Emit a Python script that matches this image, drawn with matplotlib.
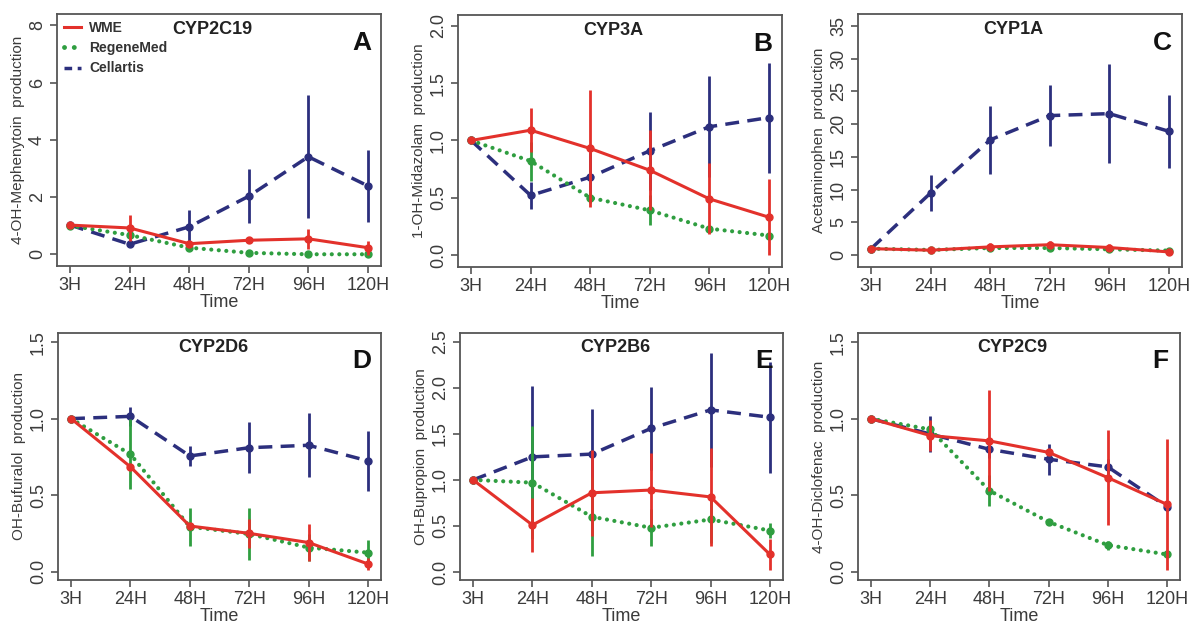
import numpy as np
import matplotlib
matplotlib.use("Agg")
import matplotlib.pyplot as plt
from matplotlib.lines import Line2D

plt.rcParams['font.family'] = ['Liberation Sans', 'DejaVu Sans']

times = ["3H", "24H", "48H", "72H", "96H", "120H"]

# panel A - CYP2C19
a_wme = [1.02, 0.92, 0.37, 0.49, 0.54, 0.23]
a_wme_sd = [0.0, 0.45, 0.05, 0.10, 0.35, 0.25]
a_reg = [1.00, 0.67, 0.23, 0.05, 0.00, 0.00]
a_reg_sd = [0.0, 0.05, 0.04, 0.02, 0.02, 0.02]
a_cel = [1.02, 0.35, 0.96, 2.03, 3.41, 2.39]
a_cel_sd = [0.0, 0.05, 0.60, 0.95, 2.15, 1.25]

# panel B - CYP3A
b_wme = [1.00, 1.09, 0.93, 0.74, 0.49, 0.33]
b_wme_sd = [0.0, 0.19, 0.51, 0.35, 0.31, 0.33]
b_reg = [1.00, 0.82, 0.50, 0.39, 0.23, 0.17]
b_reg_sd = [0.0, 0.17, 0.05, 0.13, 0.02, 0.02]
b_cel = [1.00, 0.52, 0.68, 0.91, 1.12, 1.20]
b_cel_sd = [0.0, 0.12, 0.22, 0.34, 0.44, 0.48]

# panel C - CYP1A
c_wme = [1.0, 0.76, 1.27, 1.60, 1.17, 0.50]
c_wme_sd = [0.0, 0.4, 0.6, 0.5, 0.5, 0.3]
c_reg = [1.0, 0.80, 1.10, 1.10, 0.90, 0.70]
c_reg_sd = [0.0, 0.3, 0.3, 0.3, 0.3, 0.3]
c_cel = [1.0, 9.5, 17.6, 21.3, 21.6, 18.9]
c_cel_sd = [0.0, 2.7, 5.2, 4.7, 7.6, 5.6]

# panel D - CYP2D6
d_wme = [1.00, 0.685, 0.298, 0.25, 0.19, 0.05]
d_wme_sd = [0.0, 0.02, 0.02, 0.095, 0.12, 0.04]
d_reg = [1.00, 0.767, 0.293, 0.246, 0.157, 0.124]
d_reg_sd = [0.0, 0.23, 0.125, 0.17, 0.09, 0.085]
d_cel = [1.00, 1.015, 0.756, 0.81, 0.826, 0.724]
d_cel_sd = [0.0, 0.06, 0.065, 0.165, 0.21, 0.195]

# panel E - CYP2B6
e_wme = [1.00, 0.51, 0.86, 0.89, 0.815, 0.19]
e_wme_sd = [0.0, 0.29, 0.47, 0.40, 0.53, 0.17]
e_reg = [1.00, 0.97, 0.60, 0.48, 0.57, 0.45]
e_reg_sd = [0.0, 0.61, 0.43, 0.20, 0.25, 0.08]
e_cel = [1.00, 1.25, 1.28, 1.56, 1.76, 1.68]
e_cel_sd = [0.0, 0.77, 0.49, 0.45, 0.62, 0.60]

# panel F - CYP2C9
f_wme = [1.00, 0.89, 0.855, 0.78, 0.615, 0.44]
f_wme_sd = [0.0, 0.10, 0.33, 0.02, 0.31, 0.43]
f_reg = [1.00, 0.93, 0.53, 0.326, 0.174, 0.113]
f_reg_sd = [0.0, 0.02, 0.10, 0.02, 0.03, 0.01]
f_cel = [1.00, 0.90, 0.80, 0.735, 0.685, 0.425]
f_cel_sd = [0.0, 0.12, 0.06, 0.10, 0.05, 0.03]

panels = [
    ("CYP2C19", "A", "4-OH-Mephenytoin  production", a_wme, a_wme_sd, a_reg, a_reg_sd, a_cel, a_cel_sd, (-0.41, 8.4), [0, 2, 4, 6, 8], "%d"),
    ("CYP3A", "B", "1-OH-Midazolam  production", b_wme, b_wme_sd, b_reg, b_reg_sd, b_cel, b_cel_sd, (-0.105, 2.096), [0, 0.5, 1.0, 1.5, 2.0], "%.1f"),
    ("CYP1A", "C", "Acetaminophen  production", c_wme, c_wme_sd, c_reg, c_reg_sd, c_cel, c_cel_sd, (-1.8, 36.8), [0, 5, 10, 15, 20, 25, 30, 35], "%d"),
    ("CYP2D6", "D", "OH-Bufuralol  production", d_wme, d_wme_sd, d_reg, d_reg_sd, d_cel, d_cel_sd, (-0.055, 1.56), [0, 0.5, 1.0, 1.5], "%.1f"),
    ("CYP2B6", "E", "OH-Bupropion  production", e_wme, e_wme_sd, e_reg, e_reg_sd, e_cel, e_cel_sd, (-0.087, 2.595), [0, 0.5, 1.0, 1.5, 2.0, 2.5], "%.1f"),
    ("CYP2C9", "F", "4-OH-Diclofenac  production", f_wme, f_wme_sd, f_reg, f_reg_sd, f_cel, f_cel_sd, (-0.054, 1.56), [0, 0.5, 1.0, 1.5], "%.1f"),
]

# axes boxes in pixels: left, top, right, bottom
boxes = [(57, 14, 381, 266), (458, 15, 782, 267), (858, 14, 1182, 267),
         (58, 333, 381, 580), (460, 333, 783, 580), (858, 333, 1180, 580)]

W, H = 1189, 625
red = "#e3312b"
green = "#2f9e40"
blue = "#2c2f7d"
txt = "#3b3b3b"
ls_reg = (0, (0.01, 1.8))
ls_cel = (0, (4, 2.4))

fig = plt.figure(figsize=(W / 100, H / 100), dpi=100)
x = np.arange(len(times))

for (title, letter, ylab, wme, wsd, reg, rsd, cel, csd, ylim, yt, fmt), box in zip(panels, boxes):
    l, t, r, b = box
    ax = fig.add_axes([l / W, (H - b) / H, (r - l) / W, (b - t) / H])
    ax.errorbar(x, cel, yerr=csd, color=blue, lw=2.5, ls=ls_cel,
                marker='o', ms=5, elinewidth=2, capsize=0, zorder=2)
    ax.errorbar(x, reg, yerr=rsd, color=green, lw=3, ls=ls_reg,
                dash_capstyle='round', marker='o', ms=5, elinewidth=2, capsize=0, zorder=3)
    ax.errorbar(x, wme, yerr=wsd, color=red, lw=2.2, ls='-',
                marker='o', ms=5, elinewidth=2, capsize=0, zorder=4)
    ax.set_xlim(-0.22, 5.22)
    ax.set_ylim(*ylim)
    ax.set_xticks(x)
    ax.set_xticklabels(times)
    ax.set_yticks(yt)
    ax.set_yticklabels([fmt % v for v in yt], rotation=90, va='center')
    ax.tick_params(axis='both', direction='out', length=5, width=1.2, colors='#555555',
                   labelcolor=txt, labelsize=13)
    ax.tick_params(axis='x', pad=3)
    ax.tick_params(axis='y', pad=3)
    for s in ax.spines.values():
        s.set_color('#555555')
        s.set_linewidth(1.3)
    ax.set_xlabel("Time", fontsize=13, color=txt, labelpad=0)
    ax.set_ylabel(ylab, fontsize=11, color=txt, labelpad=3)
    ax.text(0.48, 0.94, title, transform=ax.transAxes, ha='center', va='center',
            fontsize=13, fontweight='bold', color='#222222')
    ax.text(0.94, 0.885, letter, transform=ax.transAxes, ha='center', va='center',
            fontsize=19, fontweight='bold', color='#111111')
    if letter == "A":
        handles = [Line2D([], [], color=red, lw=2.2),
                   Line2D([], [], color=green, lw=3.5, ls=(0, (0.01, 2.0)), dash_capstyle='round'),
                   Line2D([], [], color=blue, lw=2.5, ls=(0, (2.2, 1.6)))]
        leg = ax.legend(handles, ["WME", "RegeneMed", "Cellartis"], loc='upper left',
                        frameon=False, handlelength=1.2, handletextpad=0.6,
                        borderaxespad=0.2, borderpad=0.3, labelspacing=0.45,
                        prop={'weight': 'bold', 'size': 10})
        for tx in leg.get_texts():
            tx.set_color('#333333')

fig.savefig("out.png", dpi=100)
